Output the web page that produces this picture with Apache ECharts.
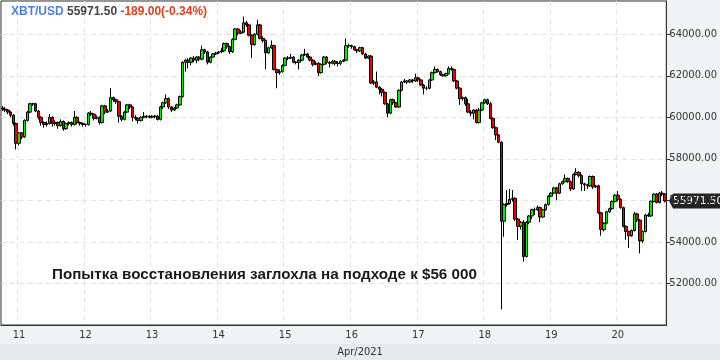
<!DOCTYPE html>
<html><head><meta charset="utf-8">
<script src="https://cdn.jsdelivr.net/npm/echarts@6/dist/echarts.min.js"></script>
<style>html,body{margin:0;padding:0;background:#f2f3f5}#c{width:720px;height:360px}</style>
</head><body><div id="c"></div>
<script>
// hourly candles, first candle 2021-04-10 18:00 (UTC), 240 candles
const startUTC = Date.UTC(2021, 3, 10, 18);
const candleCount = 240;
const symbol = 'XBT/USD';
const lastPrice = 55971.50;
const change = -189.00;
const changePct = -0.34;
const monthLabel = 'Apr/2021';
const annotation = 'Попытка восстановления заглохла на подходе к $56 000';
const yTicks = { min: 50000, max: 65600, step: 2000 };

const opens = [
60450,60400,60350,60250,60100,59700,58750,59250,59050,59850,60250,60650,60650,60300,60000,59750,59650,59700,60000,59700,
59750,59600,59800,59450,59700,59750,59650,60000,59750,59700,59650,59650,60200,60150,59950,60000,59750,60550,60250,60300,
60950,60850,60750,60050,59900,60250,60600,60500,60000,59950,59850,60000,60050,60050,60000,60050,60050,59900,60500,60700,
60900,60500,60350,60450,60600,61000,62650,62750,62650,62850,62750,62900,62800,63250,63150,62650,62900,63050,63100,63150,
63200,63550,63400,63150,63750,64250,64050,64100,64550,64450,63950,63500,64000,64450,63800,63700,63100,63350,63450,62300,
62150,62200,62500,62850,62850,62900,62650,62650,62750,63000,63050,62900,62750,62550,62600,62150,62550,62900,62650,62600,
62700,62600,62600,62700,62750,63450,63450,63400,63250,63200,63350,63050,62850,62950,61650,61700,61450,61350,61200,60650,
60200,60850,60700,60500,61300,61700,61750,61700,61800,61750,61900,61800,61550,61400,61400,61800,62150,62300,62200,62050,
62000,62100,62350,62300,61750,61400,60900,60950,60650,60250,60200,60350,59750,60350,60700,60850,60650,59950,59500,59150,
58800,55000,55800,55850,56050,56100,55100,54750,54950,53300,54950,55250,55550,55550,55650,55200,55550,55800,56200,56350,
56600,56350,56800,56900,57050,56900,56550,57250,57350,57200,56800,56750,56700,57150,56650,56700,55400,54600,54900,55450,
55600,55950,56250,56050,55650,54750,54500,54300,54550,55350,55050,54050,54500,55300,55250,55950,56300,55900,56350,56300
];
const closes = [
60400,60350,60250,60100,59700,58750,59250,59050,59850,60250,60650,60650,60300,60000,59750,59650,59700,60000,59700,59750,
59600,59800,59450,59700,59750,59650,60000,59750,59700,59650,59650,60200,60150,59950,60000,59750,60550,60250,60300,60950,
60850,60750,60050,59900,60250,60600,60500,60000,59950,59850,60000,60050,60050,60000,60050,60050,59900,60500,60700,60900,
60500,60350,60450,60600,61000,62650,62750,62650,62850,62750,62900,62800,63250,63150,62650,62900,63050,63100,63150,63200,
63550,63400,63150,63750,64250,64050,64100,64550,64450,63950,63500,64000,64450,63800,63700,63100,63350,63450,62300,62150,
62200,62500,62850,62850,62900,62650,62650,62750,63000,63050,62900,62750,62550,62600,62150,62550,62900,62650,62600,62700,
62600,62600,62700,62750,63450,63450,63400,63250,63200,63350,63050,62850,62950,61650,61700,61450,61350,61200,60650,60200,
60850,60700,60500,61300,61700,61750,61700,61800,61750,61900,61800,61550,61400,61400,61800,62150,62300,62200,62050,62000,
62100,62350,62300,61750,61400,60900,60950,60650,60250,60200,60350,59750,60350,60700,60850,60650,59950,59500,59150,58800,
55000,55800,55850,56050,56100,55100,54750,54950,53300,54950,55250,55550,55550,55650,55200,55550,55800,56200,56350,56600,
56350,56800,56900,57050,56900,56550,57250,57350,57200,56800,56750,56700,57150,56650,56700,55400,54600,54900,55450,55600,
55950,56250,56050,55650,54750,54500,54300,54550,55350,55050,54050,54500,55300,55250,55950,56300,55900,56350,56300,55971.5
];
const highs = [
60550,60500,60400,60300,60150,59750,59300,59300,59900,60300,60700,60700,60700,60350,60050,59800,59800,60150,60050,59850,
59800,59900,59850,59750,59800,59800,60300,60050,59800,59750,59700,60250,60300,60200,60100,60050,60600,60600,60400,61400,
61000,60900,60800,60100,60300,60650,60650,60550,60100,60000,60050,60250,60100,60100,60100,60100,60100,60550,60750,61100,
60950,60550,60500,60650,61050,62700,62800,62850,62900,62950,62950,62950,63450,63300,63200,62950,63100,63150,63200,63350,
63600,63600,63450,63800,64300,64300,64200,64850,64650,64500,64000,64050,64700,64500,63900,63750,63400,63700,63500,62350,
62300,62550,62900,62950,63050,62950,62700,62800,63050,63300,63100,62950,62800,62700,62650,62600,62950,62950,62700,62750,
62750,62700,62750,62800,63800,63550,63500,63450,63300,63400,63400,63100,63000,63000,61800,62200,61500,61400,61250,60700,
60900,60900,60750,61350,61750,61850,61800,61850,61850,62100,61950,61850,61600,61500,61850,62200,62450,62350,62250,62100,
62150,62450,62450,62350,61800,61450,61000,61000,60900,60350,60400,60400,60450,60750,60900,60900,60750,60000,59550,59200,
58850,55850,56500,56550,56500,56150,55150,55000,55050,55000,55300,55600,55650,55750,55700,55600,55850,56250,56400,56650,
56650,56850,56950,57250,57100,56950,57300,57550,57400,57250,56850,56800,57200,57200,56750,56750,55450,54950,55500,55650,
56000,56300,56450,56100,55700,54800,54550,54600,55450,55400,55100,54550,55350,55400,56000,56350,56350,56400,56450,56350
];
const lows = [
60300,60250,60150,60000,59600,58450,58650,58950,59000,59800,60200,60550,60250,59900,59600,59500,59550,59650,59550,59600,
59450,59550,59350,59400,59600,59550,59600,59650,59600,59550,59550,59600,60050,59850,59900,59650,59700,60150,60200,60250,
60750,60650,59750,59800,59850,60200,60400,59800,59850,59700,59800,59950,59950,59950,59950,59950,59850,59850,60400,60650,
60400,60250,60300,60400,60550,60950,62200,62350,62500,62650,62600,62700,62750,63050,62550,62600,62850,63000,63050,63100,
63150,63300,63050,63100,63700,63950,64000,64050,64350,63900,62850,63450,63950,63750,63600,62300,63050,63300,62250,61400,
62050,62150,62450,62750,62800,62600,62550,62300,62700,62950,62850,62700,62450,62500,62000,62100,62500,62550,62400,62550,
62500,62450,62500,62650,62700,63350,63300,63200,63100,63150,63000,62800,62800,61600,61550,61400,61100,61000,60600,60000,
60150,60600,60450,60450,61250,61650,61600,61650,61650,61700,61700,61500,61100,61300,61350,61750,62100,62150,62000,61950,
61950,62050,62250,61700,61350,60600,60800,60550,60200,60050,59900,59700,59700,60300,60650,60600,59900,59450,58900,58750,
50750,54250,55700,55800,55950,55000,54100,54600,53050,53250,54850,55100,55300,55500,54950,55150,55500,55750,56150,56300,
56000,56300,56750,56850,56850,56450,56500,57200,57100,56450,56450,56550,56650,56550,56600,55350,54300,54500,54850,55400,
55550,55900,55950,55600,54700,54100,53700,54250,54500,54950,53450,53950,54450,55200,55200,55900,55850,55850,56200,55900
];

const categories = [];
for (let i = 0; i < candleCount; i++) {
  const d = new Date(startUTC + i * 3600000);
  categories.push(d.toISOString().slice(0, 16).replace('T', ' '));
}
const isDayStart = (idx) => categories[idx].endsWith('00:00');
const ohlc = opens.map((o, i) => [o, closes[i], lows[i], highs[i]]);

const chart = echarts.init(document.getElementById('c'), null, { renderer: 'canvas' });
const axisFont = 'DejaVu Sans Condensed';
const gridRight = 668;

function graphics(yPix) {
  const g = [
    { type: 'rect', left: 0, top: 344, shape: { width: 720, height: 16 }, style: { fill: '#e8e9ec' }, silent: true },
    { type: 'text', left: 'center', top: 347, style: { text: monthLabel, fill: '#333333', font: '11px "DejaVu Sans Condensed"' } },
    { type: 'text', left: 52, top: 267, style: { text: annotation, fill: '#1a1a1a', font: 'bold 15.2px "Liberation Sans"' } }
  ];
  if (yPix != null) {
    g.push({ type: 'polygon', shape: { points: [[gridRight + 1, yPix], [gridRight + 5, yPix - 7.5], [720, yPix - 7.5], [720, yPix + 7.5], [gridRight + 5, yPix + 7.5]] }, style: { fill: '#222222' } });
    g.push({ type: 'text', x: gridRight + 5, y: yPix + 0.5, style: { text: lastPrice.toFixed(2), fill: '#ffffff', font: '10.5px "DejaVu Sans"', verticalAlign: 'middle' } });
  }
  return g;
}

chart.setOption({
  animation: false,
  backgroundColor: '#f2f3f5',
  title: {
    text: '{a|' + symbol + '} {b|' + lastPrice.toFixed(2) + '} {c|' + change.toFixed(2) + '(' + changePct.toFixed(2) + '%)}',
    left: 6, top: 1,
    textStyle: {
      fontFamily: 'Liberation Sans', fontSize: 12, fontWeight: 'bold',
      rich: {
        a: { color: '#4f7fe6', fontFamily: 'Liberation Sans', fontSize: 12, fontWeight: 'bold' },
        b: { color: '#444444', fontFamily: 'Liberation Sans', fontSize: 12, fontWeight: 'bold' },
        c: { color: '#e2401f', fontFamily: 'Liberation Sans', fontSize: 12, fontWeight: 'bold' }
      }
    }
  },
  grid: { left: 1, top: 1, right: 720 - gridRight, bottom: 35, show: true, backgroundColor: '#ffffff', borderColor: '#333333', borderWidth: 1, z: 0 },
  xAxis: {
    type: 'category', data: categories, boundaryGap: true,
    axisLine: { show: true, lineStyle: { color: '#333333' } },
    axisTick: { show: false },
    axisLabel: {
      interval: (idx) => isDayStart(idx),
      formatter: (v) => String(+v.slice(8, 10)),
      color: '#333333', fontFamily: axisFont, fontSize: 11, margin: 5
    },
    splitLine: { show: true, interval: (idx) => isDayStart(idx), lineStyle: { color: '#e3e3e3', type: [5, 4] } }
  },
  yAxis: {
    type: 'value', position: 'right', scale: false,
    min: yTicks.min, max: yTicks.max, interval: yTicks.step,
    axisLine: { show: true, lineStyle: { color: '#333333' } },
    axisTick: { show: true, length: 4, lineStyle: { color: '#333333' } },
    axisLabel: {
      formatter: (v) => v.toFixed(2), showMinLabel: false, showMaxLabel: false,
      color: '#333333', fontFamily: 'DejaVu Sans', fontSize: 10, margin: 3
    },
    splitLine: { show: true, showMinLine: false, showMaxLine: false, lineStyle: { color: '#e3e3e3', type: [5, 4] } }
  },
  series: [{
    type: 'candlestick', data: ohlc, barWidth: 3,
    itemStyle: { color: '#00ee00', color0: '#ee0000', borderColor: '#000000', borderColor0: '#000000', borderWidth: 1 }
  }],
  graphic: graphics(null)
});

// last price tag on the price axis, placed via the axis scale
const yPix = chart.convertToPixel({ yAxisIndex: 0 }, lastPrice);
chart.setOption({ graphic: graphics(yPix) }, { replaceMerge: ['graphic'] });
</script></body></html>
